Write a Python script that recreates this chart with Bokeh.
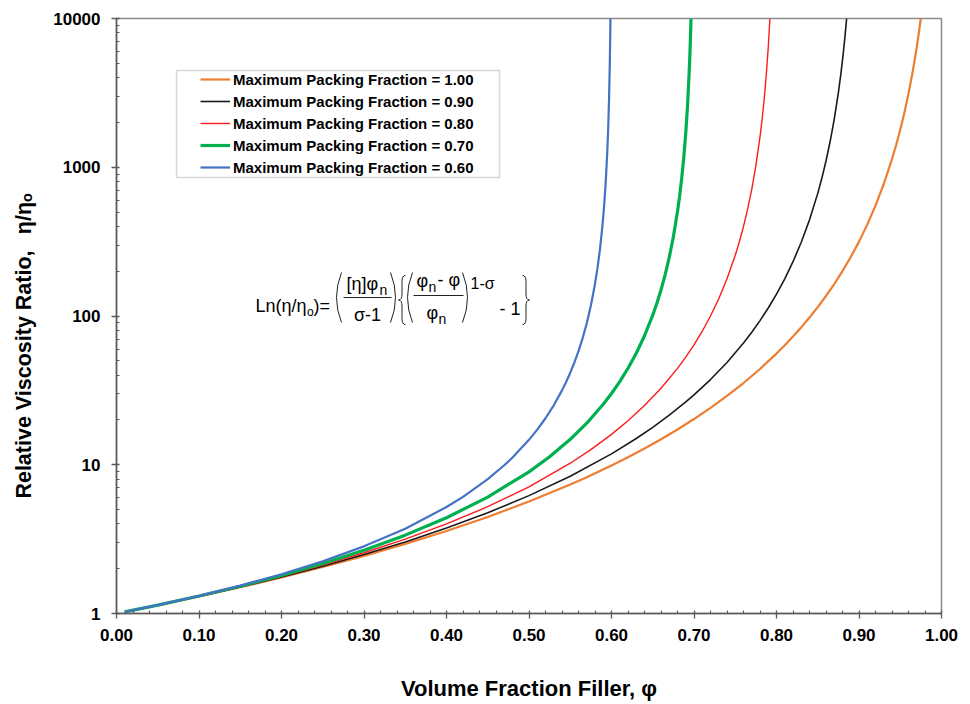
from bokeh.plotting import figure
from bokeh.models import (Range1d, FixedTicker, Label, Legend, LegendItem,
                          BoxAnnotation, NumeralTickFormatter)
from bokeh.embed import file_html
from bokeh.resources import INLINE

# ---------------- data ----------------
phi_100 = [0.01, 0.05, 0.10, 0.15, 0.20, 0.25, 0.30, 0.35, 0.40, 0.45, 0.50, 0.55,
           0.57, 0.60, 0.62, 0.64, 0.66, 0.68, 0.70, 0.72, 0.74, 0.76, 0.78, 0.80,
           0.81, 0.82, 0.83, 0.84, 0.85, 0.86, 0.87, 0.88, 0.89, 0.90, 0.91, 0.92,
           0.93, 0.94, 0.945, 0.95, 0.955, 0.96, 0.965, 0.97, 0.9725, 0.975]
eta_100 = [1.025, 1.137, 1.301, 1.501, 1.747, 2.053, 2.439, 2.936, 3.586, 4.458, 5.657,
           7.36, 8.25, 9.88, 11.23, 12.86, 14.84, 17.27, 20.29, 24.11, 29.0, 35.43,
           44.05, 55.9, 63.55, 72.74, 83.9, 97.66, 114.7, 136.3, 164.1, 200.5, 249.2,
           316.2, 411.5, 552.4, 771.4, 1134, 1410, 1789, 2328, 3125, 4363, 6415, 7973,
           10120]

phi_090 = [0.01, 0.05, 0.10, 0.15, 0.20, 0.25, 0.30, 0.35, 0.40, 0.45, 0.50, 0.55,
           0.60, 0.63, 0.65, 0.67, 0.69, 0.70, 0.72, 0.74, 0.76, 0.77, 0.78, 0.79,
           0.80, 0.81, 0.82, 0.83, 0.84, 0.85, 0.855, 0.86, 0.865, 0.87, 0.875, 0.878,
           0.881, 0.883, 0.885]
eta_090 = [1.026, 1.137, 1.304, 1.507, 1.760, 2.080, 2.490, 3.029, 3.753, 4.757, 6.201,
           8.37, 11.84, 15.01, 17.85, 21.54, 26.43, 29.49, 37.38, 48.73, 65.8, 77.7,
           93.1, 113.2, 140.3, 177.8, 231.8, 313.1, 442.9, 667.5, 845.8, 1102, 1489,
           2107, 3175, 4231, 5887, 7557, 10019]

phi_080 = [0.01, 0.05, 0.10, 0.15, 0.20, 0.25, 0.30, 0.35, 0.40, 0.45, 0.50, 0.55,
           0.575, 0.60, 0.62, 0.64, 0.66, 0.68, 0.69, 0.70, 0.71, 0.72, 0.73, 0.74,
           0.75, 0.755, 0.76, 0.765, 0.77, 0.775, 0.78, 0.7825, 0.785, 0.7875, 0.79,
           0.792]
eta_080 = [1.026, 1.138, 1.306, 1.515, 1.778, 2.116, 2.560, 3.160, 4.000, 5.224, 7.111,
           10.24, 12.64, 16.0, 19.75, 25.0, 32.65, 44.44, 52.89, 64.0, 79.01, 100.0,
           130.6, 177.8, 256.0, 316.0, 400.0, 522.4, 711.1, 1024, 1600, 2090, 2844,
           4096, 6400, 10000]

phi_070 = [0.01, 0.05, 0.10, 0.15, 0.20, 0.25, 0.30, 0.35, 0.40, 0.45, 0.50, 0.525,
           0.55, 0.57, 0.59, 0.60, 0.61, 0.62, 0.63, 0.64, 0.65, 0.655, 0.66, 0.665,
           0.67, 0.675, 0.68, 0.6825, 0.685, 0.6875, 0.69, 0.692, 0.694, 0.695, 0.6955,
           0.6964]
eta_070 = [1.026, 1.139, 1.310, 1.525, 1.802, 2.167, 2.663, 3.364, 4.405, 6.061, 8.957,
           11.31, 14.82, 19.03, 25.50, 30.13, 36.23, 44.53, 56.23, 73.66, 101.3, 121.8,
           149.7, 189.2, 247.7, 340.8, 503.6, 636.2, 833.3, 1146, 1694, 2503, 4142,
           5698, 6850, 10125]

phi_060 = [0.01, 0.05, 0.10, 0.15, 0.20, 0.25, 0.30, 0.35, 0.40, 0.42, 0.45, 0.47,
           0.48, 0.50, 0.51, 0.52, 0.53, 0.54, 0.545, 0.55, 0.555, 0.56, 0.565, 0.57,
           0.575, 0.58, 0.583, 0.586, 0.589, 0.591, 0.593, 0.595, 0.596, 0.597, 0.598,
           0.5985, 0.5988]
eta_060 = [1.026, 1.139, 1.315, 1.540, 1.837, 2.245, 2.828, 3.718, 5.196, 6.086, 8.00,
           9.92, 11.18, 14.70, 17.21, 20.54, 25.09, 31.62, 36.04, 41.57, 48.69, 58.09,
           71.0, 89.44, 117.6, 164.3, 209.7, 280.6, 402.9, 544.3, 793.6, 1314, 1837,
           2828, 5196, 8000, 11180]

series_phi = [phi_100, phi_090, phi_080, phi_070, phi_060]
series_eta = [eta_100, eta_090, eta_080, eta_070, eta_060]
legend_labels = ["Maximum Packing Fraction = 1.00", "Maximum Packing Fraction = 0.90",
                 "Maximum Packing Fraction = 0.80", "Maximum Packing Fraction = 0.70",
                 "Maximum Packing Fraction = 0.60"]

x_ticks = [0.0, 0.1, 0.2, 0.3, 0.4, 0.5, 0.6, 0.7, 0.8, 0.9, 1.0]
x_tick_labels = ["0.00", "0.10", "0.20", "0.30", "0.40", "0.50", "0.60", "0.70",
                 "0.80", "0.90", "1.00"]
y_ticks = [1, 10, 100, 1000, 10000]
y_tick_labels = ["1", "10", "100", "1000", "10000"]

x_title = "Volume Fraction Filler, φ"
y_title = "Relative Viscosity Ratio,\u00a0\u00a0\u2009η/η\u2092"

# ---------------- styles ----------------
colors = ["#ED7D31", "#1A1A1A", "#FF1A1A", "#00B050", "#4472C4"]
widths = [2.2, 1.6, 1.4, 3.2, 2.2]
FONT = "Liberation Sans"
AX = "#595959"

# frame geometry (pixels) used to place annotation text
FL, FT, FW, FH = 116, 18, 825, 595


def X(px):
    return (px - FL) / FW


def Y(py):
    return 10 ** ((FT + FH - py) / (FH / 4.0))


p = figure(frame_width=FW, frame_height=FH, x_range=Range1d(0, 1),
           y_range=Range1d(1, 10000), y_axis_type="log",
           output_backend="svg", toolbar_location=None,
           min_border_left=FL, min_border_right=970 - FL - FW,
           min_border_top=FT, min_border_bottom=704 - FT - FH)
p.xgrid.visible = False
p.ygrid.visible = False
p.outline_line_color = "#8C8C8C"
p.outline_line_width = 1.5
p.background_fill_color = "white"
p.border_fill_color = "white"

x_minor = [round(a + k * 0.02, 2) for a in x_ticks[:-1] for k in range(1, 5)]
y_minor = [m * t for t in y_ticks[:-1] for m in range(2, 10)]
p.xaxis.ticker = FixedTicker(ticks=x_ticks, minor_ticks=x_minor)
p.yaxis.ticker = FixedTicker(ticks=y_ticks, minor_ticks=y_minor)
p.xaxis.formatter = NumeralTickFormatter(format="0.00")
p.yaxis.formatter = NumeralTickFormatter(format="0")
p.xaxis.major_label_overrides = dict(zip(x_ticks, x_tick_labels))
p.yaxis.major_label_overrides = dict(zip(y_ticks, y_tick_labels))

for ax in (p.xaxis[0], p.yaxis[0]):
    ax.major_label_text_font = FONT
    ax.major_label_text_font_size = "17px"
    ax.major_label_text_font_style = "bold"
    ax.major_label_text_color = "black"
    ax.axis_line_color = AX
    ax.axis_line_width = 1.5
    ax.major_tick_line_color = AX
    ax.major_tick_line_width = 1.3
    ax.minor_tick_line_color = AX
    ax.minor_tick_line_width = 1.1
    ax.major_tick_in = 3
    ax.major_tick_out = 5
    ax.minor_tick_in = 3
    ax.minor_tick_out = 0
    ax.axis_label_text_font = FONT
    ax.axis_label_text_font_style = "bold"
    ax.axis_label_text_color = "black"
p.xaxis.major_label_standoff = 10
p.yaxis.major_label_standoff = 11

p.xaxis.axis_label = x_title
p.xaxis.axis_label_text_font_size = "22px"
p.xaxis.axis_label_standoff = 32
# trailing no-break spaces shift the centred title down to where the reference has it
p.yaxis.axis_label = y_title + "\u00a0" * 10
p.yaxis.axis_label_text_font_size = "21.5px"
p.yaxis.axis_label_standoff = 14

renderers = []
for ph, et, c, w in zip(series_phi, series_eta, colors, widths):
    r = p.line(ph, et, line_color=c, line_width=w)
    renderers.append(r)

legend = Legend(items=[LegendItem(label=lab, renderers=[r])
                       for lab, r in zip(legend_labels, renderers)],
                location=(84, 436), padding=0, margin=0, spacing=2,
                label_height=20, glyph_height=20, glyph_width=30, label_standoff=3,
                label_text_font=FONT, label_text_font_size="15px",
                label_text_font_style="bold", label_text_color="black",
                border_line_alpha=0, background_fill_alpha=0)
p.add_layout(legend)
p.add_layout(BoxAnnotation(left=X(176), right=X(499), top=Y(70), bottom=Y(177),
                           fill_alpha=0, line_color="#7F7F7F", line_width=1.5))


def label(px, py, text, size, style="normal", align="left", angle=0):
    p.add_layout(Label(x=X(px), y=Y(py), text=text, text_font=FONT,
                       text_font_size=f"{size}px", text_font_style=style,
                       text_align=align, text_baseline="middle", angle=angle,
                       text_color="black"))


# equation
EQ = "#222222"
label(255, 305, "Ln(η/η", 18)
label(306.5, 311, "o", 12)
label(313, 305, ")=", 18)
label(346, 283, "[η]φ", 18)
label(379, 289, "n", 14)
label(367, 314, "σ-1", 18, align="center")
label(416, 280, "φ", 18)
label(428, 286, "n", 14)
label(437, 279, "- φ", 18)
label(426, 312, "φ", 18)
label(438, 318, "n", 14)
label(470, 283, "1-σ", 16)
label(499, 308, "- 1", 18)

p.segment(x0=[X(343), X(413)], y0=[Y(297), Y(295)], x1=[X(391), X(463)],
          y1=[Y(297), Y(295)], line_color=EQ, line_width=1)
# parentheses
p.quadratic(x0=[X(341), X(390), X(412), X(462)],
            y0=[Y(272)] * 4,
            x1=[X(341), X(390), X(412), X(462)],
            y1=[Y(322)] * 4,
            cx=[X(331), X(400), X(402), X(472)],
            cy=[Y(297)] * 4, line_color=EQ, line_width=1)


def brace(xo, xs, xe, top, bot):
    mid = (top + bot) / 2
    p.quadratic(x0=[X(xe), X(xs), X(xo), X(xs)],
                y0=[Y(top), Y(mid - 6), Y(mid), Y(bot - 6)],
                x1=[X(xs), X(xo), X(xs), X(xe)],
                y1=[Y(top + 6), Y(mid), Y(mid + 6), Y(bot)],
                cx=[X(xs), X(xs), X(xs), X(xs)],
                cy=[Y(top), Y(mid), Y(mid), Y(bot)],
                line_color=EQ, line_width=1)
    p.segment(x0=[X(xs), X(xs)], y0=[Y(top + 6), Y(mid + 6)],
              x1=[X(xs), X(xs)], y1=[Y(mid - 6), Y(bot - 6)],
              line_color=EQ, line_width=1)


brace(398, 401.5, 405, 275, 324)
brace(529, 525.5, 522, 275, 324)

open("out.html", "w").write(file_html(p, INLINE))
